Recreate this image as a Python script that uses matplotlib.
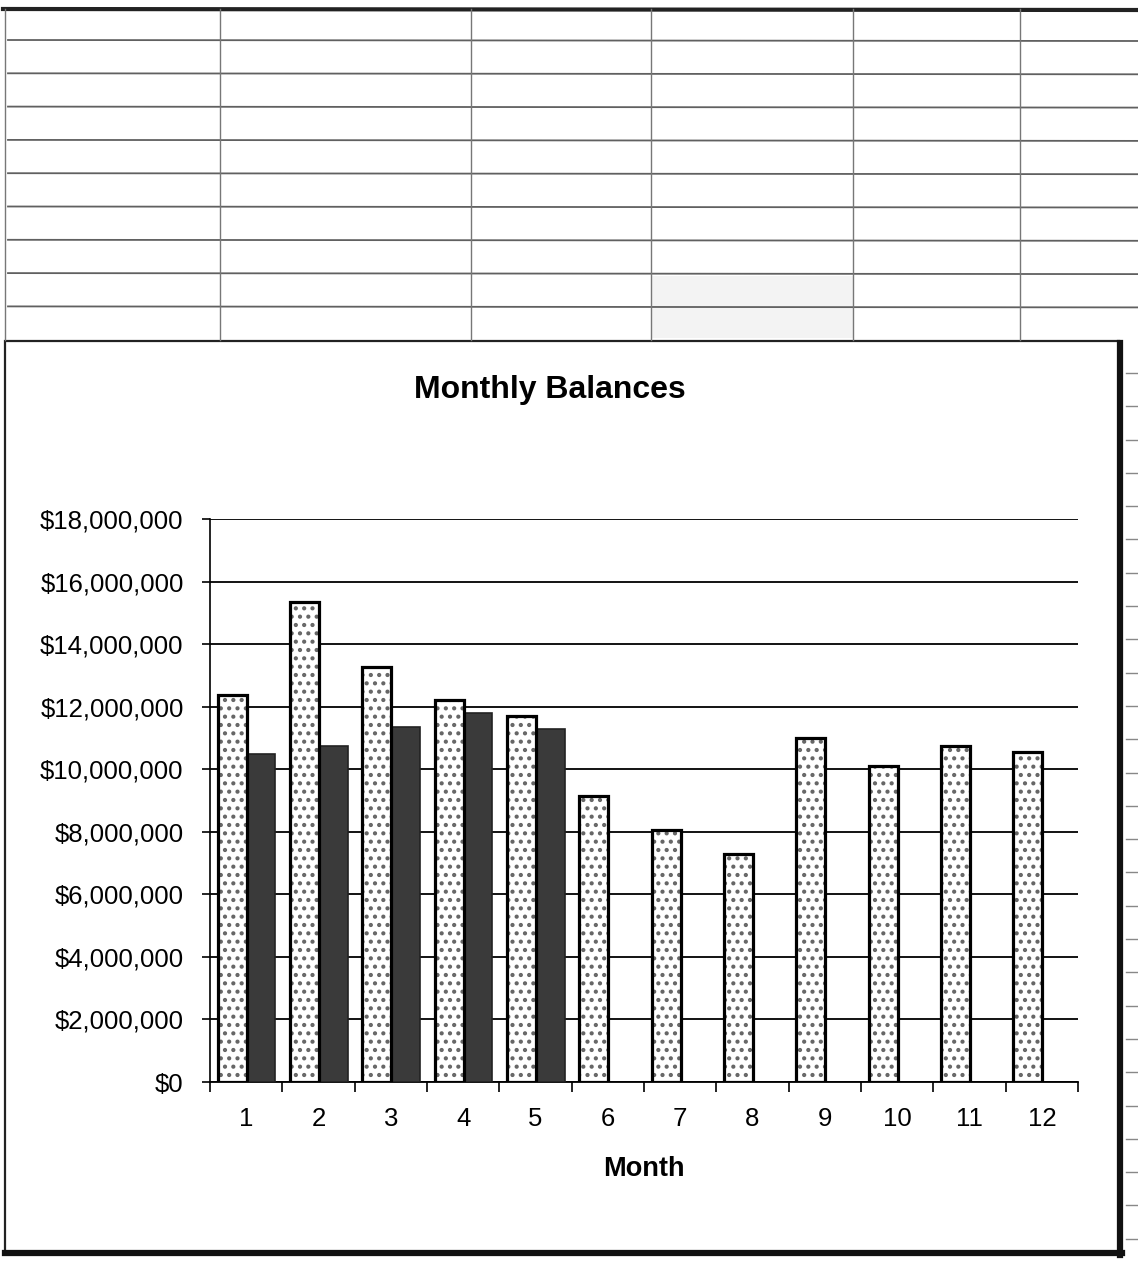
import matplotlib
matplotlib.use('Agg')
import matplotlib.pyplot as plt
from matplotlib.lines import Line2D
from matplotlib.patches import Rectangle
from matplotlib.ticker import FuncFormatter

# Data (dollars)
months = [1, 2, 3, 4, 5, 6, 7, 8, 9, 10, 11, 12]
balance_a = [12370000, 15350000, 13270000, 12210000, 11700000, 9140000,
             8060000, 7290000, 11000000, 10100000, 10740000, 10550000]
# second series only has values for the first five months
balance_b = [10490000, 10740000, 11350000, 11800000, 11290000]
y_ticks = [0, 2000000, 4000000, 6000000, 8000000, 10000000,
           12000000, 14000000, 16000000, 18000000]

title = 'Monthly Balances'
x_label = 'Month'

plt.rcParams['font.family'] = ['Liberation Sans', 'DejaVu Sans']
plt.rcParams['hatch.linewidth'] = 1.8

W, H = 1138, 1266
fig = plt.figure(figsize=(W / 100, H / 100), dpi=100)


def fx(px):
    return px / W


def fy(py):
    return 1 - py / H


def fig_line(x0, y0, x1, y1, lw=1.3, color='#555555'):
    fig.add_artist(Line2D([fx(x0), fx(x1)], [fy(y0), fy(y1)],
                          transform=fig.transFigure, lw=lw, color=color))


# ---- spreadsheet grid behind the chart ----
fig.add_artist(Rectangle((fx(651), fy(338)), fx(853) - fx(651), fy(276) - fy(338),
                         transform=fig.transFigure, facecolor='#f3f3f3',
                         edgecolor='none', zorder=-2))
fig_line(3, 9, 1138, 10, lw=3, color='#222222')
for k in range(9):
    y = 40 + 33.3 * k
    fig_line(8, y, 1138, y + 1, lw=1.3, color='#606060')
for x in [5, 220, 471, 651, 853, 1020]:
    fig_line(x, 9, x, 340, lw=1.0, color='#777777')
y = 373
while y < 1245:
    fig_line(1126, y, 1138, y, lw=1.0, color='#888888')
    y += 33.3

# ---- chart box with shadow ----
fig.add_artist(Rectangle((fx(5), fy(1252)), fx(1119) - fx(5), fy(341) - fy(1252),
                         transform=fig.transFigure, facecolor='white',
                         edgecolor='#222222', lw=1.6, zorder=-1))
fig_line(1120, 343, 1120, 1255, lw=4.5, color='#111111')
fig_line(5, 1253, 1122, 1253, lw=4.5, color='#111111')

# ---- the plot itself ----
ax = fig.add_axes([fx(210), fy(1082), fx(1078) - fx(210), fy(519) - fy(1082)])
ax.set_zorder(2)
ax.patch.set_alpha(0)

pos = list(range(len(months)))
bar_w = 0.4
xa = [p - 0.195 for p in pos]
# dotted fill (grey dots) then the black outline on top
ax.bar(xa, balance_a, width=bar_w, color='white', edgecolor='#666666',
       linewidth=0, hatch='..', zorder=3)
ax.bar(xa, balance_a, width=bar_w, color='none', edgecolor='black',
       linewidth=2.3, zorder=4)
ax.bar([p + 0.205 for p in pos[:len(balance_b)]], balance_b, width=bar_w,
       color='#3a3a3a', edgecolor='#222222', linewidth=1.2, zorder=3)

ax.set_xlim(-0.5, len(months) - 0.5)
ax.set_ylim(0, 18000000)
ax.set_yticks(y_ticks)
ax.yaxis.set_major_formatter(FuncFormatter(lambda v, p: '${:,.0f}'.format(v)))
ax.grid(axis='y', color='black', lw=1.3, zorder=0)

ax.set_xticks(pos)
ax.set_xticklabels([str(m) for m in months])
ax.set_xticks([p - 0.5 for p in pos] + [len(months) - 0.5], minor=True)
ax.tick_params(axis='x', which='major', length=0, pad=18, labelsize=18.5)
ax.tick_params(axis='x', which='minor', length=7, width=1.2, direction='out')
ax.tick_params(axis='y', length=6, width=1.2, direction='out', pad=13, labelsize=18.5)

for s in ['top', 'right']:
    ax.spines[s].set_visible(False)
ax.spines['left'].set_linewidth(1.2)
ax.spines['bottom'].set_linewidth(1.3)

ax.set_xlabel(x_label, fontsize=19.5, fontweight='bold', labelpad=18)
fig.text(fx(550), fy(390), title, fontsize=23, fontweight='bold',
         ha='center', va='center')

fig.savefig('out.png', dpi=100)
